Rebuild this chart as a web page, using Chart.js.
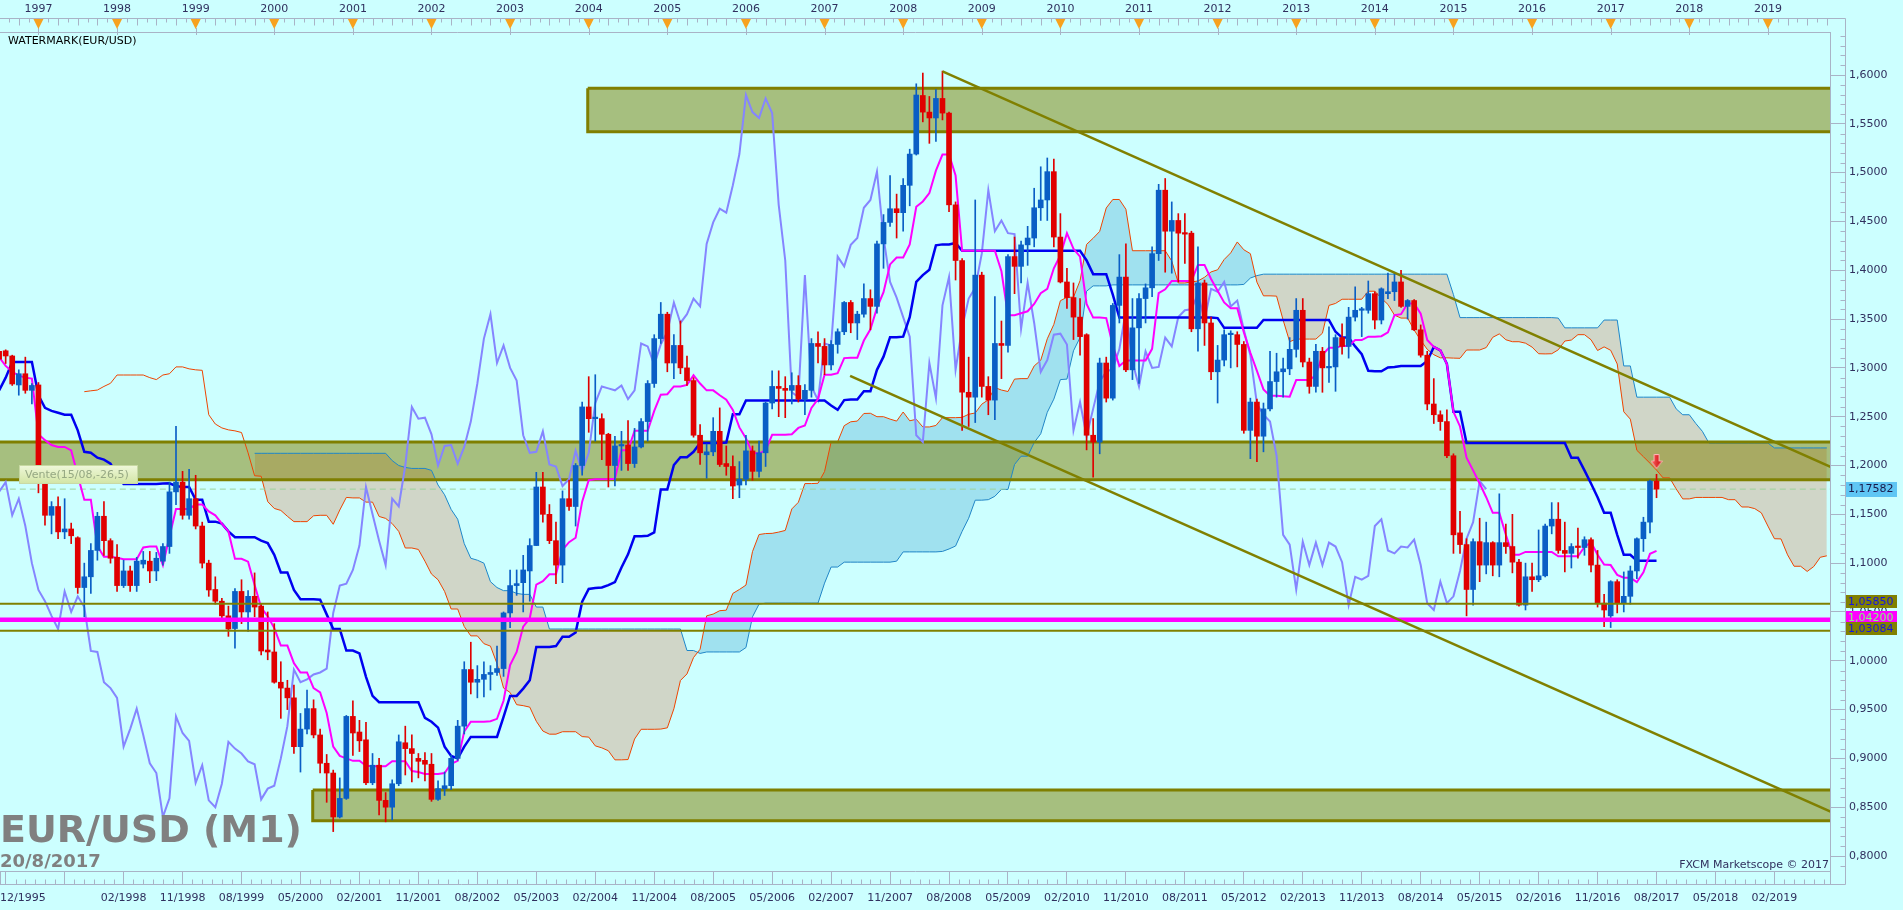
<!DOCTYPE html>
<html>
<head>
<meta charset="utf-8">
<title>EUR/USD (M1)</title>
<script src="https://cdn.jsdelivr.net/npm/chart.js@4.4.1/dist/chart.umd.min.js"></script>
<style>
  html, body { margin: 0; padding: 0; background: #CCFFFF; overflow: hidden; }
  #wrap { position: relative; width: 1903px; height: 910px; background: #CCFFFF; }
  canvas { display: block; }
  .txt { position: absolute; font-family: "DejaVu Sans", sans-serif; white-space: nowrap; }
</style>
</head>
<body>
<div id="wrap">
  <canvas id="c" width="1903" height="910"></canvas>
  <div class="txt" style="left:8px;top:34px;font-size:11px;line-height:13px;color:#000;">WATERMARK(EUR/USD)</div>
  <div class="txt" style="left:19px;top:465px;width:119px;height:19px;box-sizing:border-box;border:1px solid rgba(196,214,160,0.9);background:linear-gradient(#EEF7D8,#D3E6A6);font-size:11px;line-height:17px;padding-left:5px;color:#96A883;">Vente(15/08,-26,5)</div>
  <div class="txt" style="left:0px;top:806px;font-size:38px;line-height:46px;font-weight:bold;color:#808080;">EUR/USD (M1)</div>
  <div class="txt" style="left:0px;top:850px;font-size:18px;line-height:22px;font-weight:bold;color:#808080;">20/8/2017</div>
  <div class="txt" style="right:74px;top:858px;font-size:11px;line-height:13px;color:#30305E;">FXCM Marketscope © 2017</div>
</div>
<script>
// ---------------- DATA ----------------
const FIRST_MONTH = '1996-07';      // month of the first candle below
const SENKOU_A_FIRST = '1997-08';   // first month of senkouA (already shifted forward)
const SENKOU_B_FIRST = '1999-10';   // first month of senkouB (already shifted forward)
const CHIKOU_SHIFT = 26;            // chikou = close drawn 26 months earlier

const open = [
 1.317,1.3175,1.3122,1.2825,1.294,1.277,1.2825,1.186,1.149,1.158,1.132,1.135,
 1.126,1.075,1.086,1.113,1.148,1.123,1.106,1.077,1.092,1.077,1.099,1.102,
 1.092,1.102,1.117,1.173,1.183,1.149,1.166,1.138,1.100,1.073,1.061,1.046,
 1.033,1.071,1.050,1.066,1.056,1.011,1.009,0.978,0.972,0.962,0.912,0.930,
 0.951,0.924,0.895,0.885,0.840,0.859,0.943,0.927,0.919,0.875,0.893,0.857,
 0.850,0.874,0.916,0.910,0.900,0.898,0.894,0.858,0.869,0.872,0.900,0.933,
 0.991,0.978,0.981,0.986,0.988,0.992,1.049,1.077,1.080,1.092,1.118,1.178,
 1.150,1.123,1.098,1.166,1.158,1.200,1.260,1.248,1.248,1.232,1.200,1.220,
 1.221,1.202,1.219,1.245,1.284,1.330,1.355,1.305,1.323,1.300,1.287,1.231,
 1.211,1.214,1.235,1.202,1.199,1.180,1.186,1.215,1.194,1.213,1.264,1.281,
 1.279,1.277,1.282,1.268,1.277,1.325,1.322,1.303,1.324,1.337,1.367,1.346,
 1.355,1.371,1.363,1.427,1.449,1.463,1.459,1.487,1.519,1.579,1.562,1.556,
 1.576,1.561,1.467,1.410,1.275,1.270,1.395,1.281,1.267,1.325,1.323,1.414,
 1.404,1.426,1.433,1.464,1.472,1.501,1.434,1.388,1.372,1.352,1.334,1.231,
 1.224,1.305,1.269,1.364,1.393,1.298,1.341,1.371,1.382,1.417,1.482,1.440,
 1.451,1.438,1.438,1.340,1.387,1.346,1.296,1.308,1.334,1.334,1.324,1.236,
 1.265,1.230,1.258,1.286,1.296,1.299,1.319,1.359,1.306,1.281,1.317,1.300,
 1.301,1.331,1.322,1.352,1.359,1.359,1.376,1.349,1.376,1.378,1.388,1.363,
 1.369,1.339,1.313,1.263,1.252,1.245,1.210,1.131,1.119,1.073,1.122,1.098,
 1.121,1.098,1.121,1.117,1.101,1.057,1.086,1.083,1.087,1.138,1.145,1.113,
 1.110,1.117,1.116,1.124,1.098,1.059,1.046,1.081,1.059,1.066,1.092,1.125,
 1.142,1.184];

const high = [
 1.318,1.3185,1.313,1.298,1.311,1.284,1.285,1.190,1.163,1.168,1.166,1.141,
 1.127,1.100,1.120,1.152,1.163,1.125,1.119,1.103,1.097,1.106,1.112,1.112,
 1.111,1.120,1.183,1.240,1.194,1.196,1.190,1.142,1.103,1.086,1.064,1.056,
 1.074,1.083,1.072,1.090,1.058,1.050,1.038,0.999,0.980,0.975,0.946,0.970,
 0.960,0.930,0.904,0.888,0.880,0.944,0.959,0.939,0.937,0.905,0.900,0.865,
 0.878,0.924,0.933,0.924,0.905,0.906,0.905,0.877,0.886,0.903,0.939,0.999,
 1.019,0.995,0.999,0.995,1.015,1.050,1.093,1.093,1.108,1.125,1.193,1.193,
 1.160,1.142,1.174,1.185,1.202,1.265,1.291,1.293,1.253,1.233,1.230,1.235,
 1.246,1.238,1.248,1.287,1.334,1.367,1.357,1.334,1.348,1.312,1.290,1.242,
 1.222,1.249,1.259,1.220,1.210,1.204,1.231,1.220,1.225,1.265,1.297,1.297,
 1.291,1.295,1.292,1.283,1.330,1.337,1.330,1.328,1.340,1.368,1.369,1.358,
 1.386,1.380,1.430,1.457,1.497,1.478,1.494,1.524,1.591,1.602,1.578,1.585,
 1.604,1.562,1.470,1.412,1.311,1.472,1.398,1.291,1.373,1.348,1.416,1.434,
 1.430,1.445,1.484,1.506,1.515,1.514,1.458,1.402,1.387,1.371,1.335,1.248,
 1.310,1.311,1.366,1.416,1.427,1.371,1.376,1.386,1.424,1.488,1.494,1.470,
 1.458,1.458,1.440,1.424,1.390,1.352,1.323,1.339,1.338,1.337,1.327,1.269,
 1.268,1.264,1.317,1.315,1.310,1.331,1.371,1.371,1.310,1.324,1.321,1.342,
 1.334,1.345,1.362,1.383,1.362,1.389,1.378,1.382,1.397,1.398,1.400,1.370,
 1.370,1.344,1.317,1.289,1.256,1.257,1.212,1.153,1.125,1.125,1.146,1.142,
 1.122,1.171,1.140,1.150,1.104,1.100,1.100,1.134,1.140,1.162,1.162,1.142,
 1.120,1.136,1.127,1.126,1.113,1.068,1.082,1.083,1.091,1.097,1.126,1.147,
 1.185,1.191];

const low = [
 1.305,1.3045,1.282,1.272,1.274,1.263,1.172,1.139,1.130,1.125,1.125,1.120,
 1.069,1.045,1.069,1.103,1.108,1.100,1.071,1.075,1.071,1.071,1.095,1.080,
 1.082,1.098,1.110,1.160,1.145,1.145,1.135,1.095,1.066,1.058,1.041,1.025,
 1.013,1.038,1.030,1.045,1.006,1.001,0.977,0.941,0.950,0.905,0.886,0.925,
 0.921,0.885,0.855,0.825,0.839,0.858,0.903,0.907,0.873,0.873,0.842,0.835,
 0.837,0.872,0.883,0.876,0.880,0.877,0.856,0.857,0.862,0.868,0.898,0.925,
 0.966,0.962,0.963,0.970,0.985,0.984,1.034,1.067,1.050,1.061,1.118,1.142,
 1.120,1.079,1.080,1.154,1.138,1.190,1.234,1.225,1.206,1.178,1.179,1.195,
 1.195,1.198,1.218,1.225,1.280,1.325,1.296,1.289,1.294,1.282,1.229,1.201,
 1.187,1.210,1.199,1.190,1.166,1.167,1.180,1.185,1.188,1.199,1.258,1.250,
 1.249,1.263,1.265,1.252,1.270,1.305,1.293,1.298,1.315,1.334,1.336,1.329,
 1.352,1.339,1.356,1.402,1.445,1.433,1.440,1.466,1.518,1.552,1.530,1.532,
 1.554,1.460,1.390,1.236,1.240,1.244,1.270,1.252,1.247,1.289,1.316,1.376,
 1.387,1.405,1.424,1.451,1.451,1.424,1.387,1.361,1.329,1.313,1.216,1.188,
 1.212,1.265,1.267,1.346,1.296,1.288,1.284,1.346,1.373,1.410,1.398,1.397,
 1.388,1.407,1.337,1.317,1.323,1.288,1.264,1.302,1.300,1.301,1.233,1.207,
 1.204,1.214,1.256,1.270,1.270,1.293,1.311,1.301,1.274,1.275,1.275,1.285,
 1.276,1.314,1.310,1.348,1.332,1.356,1.340,1.345,1.371,1.369,1.362,1.350,
 1.338,1.311,1.257,1.243,1.236,1.208,1.110,1.110,1.046,1.057,1.081,1.089,
 1.087,1.086,1.110,1.090,1.056,1.052,1.071,1.081,1.086,1.130,1.110,1.091,
 1.095,1.105,1.108,1.091,1.055,1.035,1.034,1.049,1.050,1.058,1.084,1.112,
 1.131,1.167];

const close = [
 1.309,1.3122,1.2835,1.294,1.277,1.282,1.188,1.149,1.158,1.132,1.135,1.128,
 1.075,1.086,1.113,1.148,1.123,1.105,1.077,1.092,1.077,1.102,1.103,1.092,
 1.105,1.117,1.173,1.183,1.149,1.166,1.138,1.100,1.0725,1.061,1.046,1.0325,
 1.071,1.050,1.066,1.055,1.010,1.009,0.978,0.972,0.962,0.912,0.930,0.951,
 0.924,0.895,0.885,0.840,0.859,0.943,0.926,0.918,0.875,0.893,0.857,0.850,
 0.874,0.917,0.910,0.905,0.897,0.894,0.858,0.869,0.872,0.900,0.933,0.991,
 0.978,0.981,0.986,0.988,0.992,1.049,1.077,1.079,1.093,1.118,1.178,1.150,
 1.123,1.098,1.166,1.158,1.200,1.260,1.248,1.249,1.232,1.200,1.220,1.221,
 1.202,1.219,1.245,1.284,1.330,1.355,1.305,1.323,1.300,1.287,1.231,1.213,
 1.214,1.235,1.201,1.199,1.179,1.186,1.215,1.194,1.213,1.264,1.281,1.279,
 1.277,1.282,1.268,1.277,1.325,1.322,1.303,1.324,1.337,1.367,1.346,1.355,
 1.371,1.363,1.427,1.449,1.463,1.459,1.487,1.519,1.5795,1.562,1.556,1.576,
 1.561,1.467,1.410,1.275,1.270,1.395,1.281,1.267,1.325,1.323,1.414,1.404,
 1.426,1.433,1.464,1.472,1.501,1.434,1.388,1.372,1.352,1.332,1.231,1.224,
 1.305,1.269,1.364,1.393,1.298,1.341,1.371,1.382,1.417,1.482,1.440,1.451,
 1.438,1.437,1.340,1.387,1.346,1.296,1.308,1.334,1.335,1.324,1.236,1.265,
 1.230,1.258,1.286,1.296,1.299,1.319,1.359,1.306,1.281,1.317,1.300,1.301,
 1.331,1.322,1.352,1.359,1.360,1.376,1.349,1.381,1.378,1.388,1.363,1.369,
 1.339,1.313,1.263,1.252,1.245,1.210,1.129,1.119,1.073,1.122,1.098,1.121,
 1.098,1.121,1.117,1.101,1.057,1.086,1.083,1.087,1.138,1.145,1.113,1.110,
 1.117,1.116,1.124,1.098,1.059,1.052,1.081,1.059,1.066,1.092,1.125,1.142,
 1.184,1.1758];

// Tenkan-sen (magenta), one value per candle
const tenkan = [
 1.311,1.302,1.296,1.292,1.290,1.289,1.232,1.226,1.221,1.219,1.219,1.2155,
 1.190,1.165,1.165,1.1175,1.1065,1.1065,1.1055,1.104,1.104,1.104,1.116,1.117,
 1.117,1.098,1.127,1.1555,1.1555,1.1555,1.160,1.160,1.153,1.149,1.1405,1.1325,
 1.1045,1.1045,1.1015,1.0775,1.0545,1.0455,1.0335,1.0155,1.0155,0.9975,0.988,0.988,
 0.972,0.9675,0.9465,0.912,0.9025,0.900,0.8975,0.8975,0.8925,0.892,0.892,0.892,
 0.897,0.897,0.897,0.887,0.886,0.884,0.884,0.884,0.885,0.8945,0.8975,0.9275,
 0.9375,0.9375,0.9375,0.938,0.9405,0.959,0.9955,1.009,1.035,1.0435,1.078,1.0815,
 1.0885,1.0885,1.1135,1.1215,1.126,1.163,1.185,1.186,1.186,1.186,1.1865,1.2155,
 1.2155,1.2355,1.2355,1.2355,1.256,1.2725,1.273,1.281,1.281,1.2825,1.2925,1.284,
 1.277,1.277,1.272,1.2675,1.257,1.239,1.228,1.2125,1.2125,1.2155,1.2315,1.2315,
 1.2315,1.232,1.2385,1.241,1.259,1.268,1.293,1.293,1.2945,1.310,1.3105,1.3105,
 1.328,1.3395,1.3615,1.3775,1.406,1.413,1.413,1.4265,1.465,1.4705,1.479,1.502,
 1.5185,1.5185,1.497,1.420,1.420,1.420,1.420,1.420,1.420,1.399,1.354,1.354,
 1.356,1.358,1.3655,1.3765,1.381,1.402,1.4155,1.438,1.422,1.414,1.3655,1.3515,
 1.3515,1.351,1.323,1.302,1.3075,1.3075,1.3075,1.3075,1.3195,1.3765,1.3805,1.389,
 1.389,1.389,1.389,1.4055,1.4055,1.391,1.379,1.367,1.361,1.361,1.3365,1.3155,
 1.297,1.278,1.2715,1.2715,1.271,1.2705,1.2875,1.2875,1.2875,1.2925,1.3135,1.3205,
 1.3205,1.3225,1.3225,1.3285,1.3285,1.332,1.332,1.3325,1.3365,1.354,1.355,1.366,
 1.366,1.3555,1.3285,1.3215,1.318,1.304,1.255,1.240,1.208,1.195,1.1815,1.1675,
 1.1515,1.1515,1.129,1.1085,1.1085,1.1115,1.1115,1.1115,1.1115,1.1115,1.107,1.107,
 1.107,1.107,1.1165,1.1215,1.1085,1.0985,1.098,1.088,1.085,1.085,1.0805,1.0905,
 1.1095,1.1125];

// Kijun-sen (blue), one value per candle
const kijun = [
 1.277,1.290,1.306,1.306,1.306,1.306,1.272,1.259,1.256,1.254,1.252,1.252,
 1.236,1.214,1.213,1.208,1.206,1.202,1.190,1.181,1.181,1.181,1.181,1.181,
 1.181,1.1815,1.1818,1.179,1.178,1.178,1.165,1.165,1.1425,1.1425,1.1405,1.1325,
 1.1265,1.1265,1.1265,1.1265,1.123,1.1205,1.1085,1.0905,1.0905,1.0725,1.063,1.063,
 1.063,1.0625,1.0475,1.0325,1.0325,1.0105,1.0105,1.0075,0.9835,0.964,0.9575,0.9575,
 0.9575,0.9575,0.9575,0.9575,0.9575,0.9415,0.9375,0.9315,0.912,0.9025,0.900,0.912,
 0.922,0.922,0.922,0.922,0.922,0.9425,0.964,0.964,0.9715,0.980,1.014,1.014,
 1.014,1.015,1.0245,1.0245,1.029,1.0605,1.0735,1.0745,1.075,1.0775,1.0805,1.0955,
 1.109,1.1275,1.1275,1.128,1.1315,1.1755,1.1755,1.2005,1.2085,1.2085,1.214,1.223,
 1.223,1.223,1.223,1.2235,1.2525,1.2525,1.2665,1.2665,1.2665,1.2665,1.2665,1.2665,
 1.2665,1.2665,1.2665,1.2665,1.2665,1.2665,1.2665,1.2615,1.257,1.267,1.2675,1.2675,
 1.276,1.276,1.298,1.3115,1.3315,1.3315,1.332,1.352,1.388,1.395,1.4005,1.4255,
 1.4265,1.4265,1.428,1.420,1.420,1.420,1.420,1.420,1.420,1.420,1.420,1.420,
 1.420,1.420,1.420,1.420,1.420,1.420,1.420,1.420,1.420,1.420,1.410,1.396,
 1.396,1.396,1.375,1.3515,1.3515,1.3515,1.3515,1.3515,1.3515,1.3515,1.3515,1.3515,
 1.3515,1.3515,1.3515,1.3515,1.3515,1.3515,1.351,1.341,1.341,1.341,1.341,1.341,
 1.341,1.349,1.349,1.349,1.349,1.349,1.349,1.349,1.349,1.349,1.349,1.349,
 1.337,1.331,1.331,1.322,1.314,1.297,1.2965,1.2965,1.3005,1.301,1.302,1.302,
 1.302,1.302,1.307,1.3215,1.318,1.304,1.255,1.255,1.223,1.223,1.223,1.223,
 1.223,1.223,1.223,1.223,1.223,1.223,1.223,1.223,1.223,1.223,1.223,1.223,
 1.208,1.208,1.195,1.1815,1.1675,1.1515,1.1515,1.129,1.1085,1.1085,1.1025,1.1025,
 1.1025,1.1025];

// Senkou span A (orange-red), from SENKOU_A_FIRST
const senkouA = [
 1.2756,1.2765,1.2773,1.281,1.2842,1.2927,1.2927,1.2927,1.2927,1.2927,1.290,1.288,
 1.2927,1.294,1.301,1.301,1.299,1.298,1.2975,1.252,1.2425,1.2385,1.2365,1.2355,
 1.2338,1.213,1.1895,1.189,1.163,1.156,1.154,1.148,1.1425,1.1425,1.1425,1.1485,
 1.149,1.149,1.1398,1.1544,1.1673,1.1668,1.1668,1.1625,1.1625,1.1478,1.1458,1.1405,
 1.1325,1.1155,1.1155,1.114,1.102,1.0888,1.083,1.071,1.053,1.053,1.035,1.0255,
 1.0255,1.0175,1.015,0.997,0.972,0.9675,0.955,0.954,0.9525,0.938,0.928,0.9248,
 0.9248,0.9273,0.9273,0.9273,0.9223,0.9218,0.9128,0.9108,0.9078,0.8985,0.8985,0.8988,
 0.9198,0.9298,0.9298,0.9298,0.930,0.9313,0.9508,0.9798,0.9865,1.0033,1.0118,1.046,
 1.0478,1.0513,1.0518,1.069,1.073,1.0775,1.1118,1.1293,1.1303,1.1305,1.1318,1.1335,
 1.1555,1.1623,1.1815,1.1815,1.1818,1.1938,1.224,1.2243,1.2408,1.2448,1.2455,1.2533,
 1.2535,1.25,1.25,1.2475,1.2455,1.2548,1.2458,1.2473,1.2395,1.2395,1.241,1.249,
 1.249,1.249,1.2493,1.2525,1.2538,1.2628,1.2673,1.2798,1.2773,1.2758,1.2885,1.289,
 1.289,1.302,1.3078,1.3298,1.3445,1.3688,1.3723,1.3725,1.3893,1.4265,1.4328,1.4398,
 1.4638,1.4725,1.4725,1.4625,1.420,1.420,1.420,1.420,1.420,1.420,1.4095,1.387,
 1.387,1.388,1.389,1.3928,1.3983,1.4005,1.411,1.4178,1.429,1.421,1.417,1.3878,
 1.3738,1.3738,1.3735,1.349,1.3268,1.3295,1.3295,1.3295,1.3295,1.3355,1.364,1.366,
 1.3703,1.3703,1.3703,1.3703,1.3785,1.3785,1.3713,1.365,1.354,1.351,1.351,1.3388,
 1.3283,1.319,1.3135,1.3103,1.3103,1.31,1.3098,1.3183,1.3183,1.3183,1.3208,1.3313,
 1.3348,1.3288,1.3268,1.3268,1.3253,1.3213,1.3145,1.3143,1.3145,1.3185,1.3275,1.3285,
 1.334,1.334,1.3288,1.3178,1.3215,1.318,1.304,1.255,1.2475,1.2155,1.209,1.2023,
 1.1953,1.1873,1.1873,1.176,1.1658,1.1658,1.1673,1.1673,1.1673,1.1673,1.1673,1.165,
 1.165,1.1575,1.1575,1.1558,1.1515,1.138,1.125,1.1248,1.1085,1.0968,1.0968,1.0915,
 1.0965,1.106,1.1075];

// Senkou span B (steel blue), from SENKOU_B_FIRST
const senkouB = [
 1.2125,1.2125,1.2125,1.2125,1.2125,1.2125,1.2125,1.2125,1.2125,1.2125,1.2125,1.2125,
 1.2125,1.2125,1.2125,1.2125,1.2125,1.2125,1.2125,1.2125,1.2125,1.205,1.200,1.198,
 1.197,1.197,1.197,1.195,1.180,1.170,1.155,1.145,1.120,1.105,1.103,1.100,
 1.081,1.075,1.0718,1.0718,1.069,1.068,1.068,1.055,1.055,1.0325,1.0325,1.0325,
 1.0325,1.0325,1.0325,1.0325,1.0325,1.0325,1.0325,1.0325,1.0325,1.0325,1.0325,1.0325,
 1.0325,1.0325,1.0325,1.0325,1.0325,1.0325,1.0105,1.0105,1.0075,1.009,1.009,1.009,
 1.009,1.009,1.009,1.0135,1.045,1.058,1.059,1.059,1.059,1.059,1.059,1.059,
 1.059,1.059,1.059,1.0795,1.096,1.096,1.101,1.101,1.101,1.101,1.101,1.101,
 1.101,1.101,1.102,1.1115,1.1115,1.1115,1.1115,1.1115,1.1115,1.112,1.1145,1.1175,
 1.1325,1.146,1.1645,1.1645,1.165,1.1685,1.1755,1.1755,1.201,1.2095,1.2095,1.2235,
 1.2325,1.2545,1.268,1.288,1.2885,1.3175,1.331,1.3785,1.384,1.384,1.384,1.385,
 1.385,1.385,1.385,1.385,1.385,1.385,1.385,1.385,1.385,1.385,1.385,1.385,
 1.385,1.385,1.385,1.385,1.385,1.385,1.385,1.3855,1.392,1.3945,1.396,1.396,
 1.396,1.396,1.396,1.396,1.396,1.396,1.396,1.396,1.396,1.396,1.396,1.396,
 1.396,1.396,1.396,1.396,1.396,1.396,1.396,1.396,1.396,1.396,1.396,1.396,
 1.396,1.396,1.396,1.375,1.3515,1.3515,1.3515,1.3515,1.3515,1.3515,1.3515,1.3515,
 1.3515,1.3515,1.3515,1.3515,1.3515,1.3515,1.3515,1.351,1.341,1.341,1.341,1.341,
 1.341,1.341,1.349,1.349,1.349,1.302,1.302,1.270,1.270,1.270,1.270,1.270,
 1.270,1.258,1.252,1.252,1.243,1.235,1.223,1.223,1.223,1.223,1.223,1.223,
 1.223,1.223,1.223,1.223,1.218,1.218,1.218,1.218,1.218,1.218,1.218,1.218,
 1.218];

// Drawings
const zones = [   // olive support/resistance boxes
  { from: '1996-01', to: '2020-01', top: 1.2242, bottom: 1.1853 },
  { from: '2003-12.85', to: '2020-01', top: 1.5865, bottom: 1.5420 },
  { from: '2000-06.87', to: '2020-01', top: 0.8677, bottom: 0.8362 }
];
const trendLines = [  // [month, price] anchors
  [['2008-07', 1.6038], ['2020-01', 1.1913]],
  [['2007-04.9', 1.2917], ['2020-01', 0.8383]]
];
const levels = [1.05850, 1.04200, 1.03084];
const lastPrice = 1.17582;
const sellSignal = { month: '2017-08', price: 1.2040 };

// Axes
const bottomLabels = ['12/1995','02/1998','11/1998','08/1999','05/2000','02/2001','11/2001','08/2002',
  '05/2003','02/2004','11/2004','08/2005','05/2006','02/2007','11/2007','08/2008','05/2009','02/2010',
  '11/2010','08/2011','05/2012','02/2013','11/2013','08/2014','05/2015','02/2016','11/2016','08/2017',
  '05/2018','02/2019'];
const bottomUnlabeled = ['08/1996', '05/1997'];
const topYears = ['1997','1998','1999','2000','2001','2002','2003','2004','2005','2006','2007','2008',
  '2009','2010','2011','2012','2013','2014','2015','2016','2017','2018','2019'];
const priceTicks = [0.80,0.85,0.90,0.95,1.00,1.05,1.10,1.15,1.20,1.25,1.30,1.35,1.40,1.45,1.50,1.55,1.60];
const X_RANGE = ['1996-07.133', '2019-10.48'];
const Y_RANGE = [0.78464, 1.64405];

// ---------------- STYLE ----------------
const AXIS_COLOR = '#A9B3C6';
const LABEL_COLOR = '#30305E';
const BULL = '#0A5EC5', BEAR = '#E00000';
const OLIVE = '#808000';
const levelStyle = [
  { line: OLIVE, width: 2, tagBg: '#808000', tagFg: '#1414E6' },
  { line: '#FF00FF', width: 4.5, tagBg: '#FF00FF', tagFg: '#7CFF7C' },
  { line: OLIVE, width: 2, tagBg: '#808000', tagFg: '#1414E6' }
];

// ---------------- BUILD ----------------
function monthNum(s) {             // 'YYYY-MM(.frac)' -> continuous month number
  const [y, m] = s.split('-');
  return Number(y) * 12 + (Number(m) - 1);
}
function labelMonth(s) {           // 'MM/YYYY' -> month number
  const [m, y] = s.split('/');
  return Number(y) * 12 + (Number(m) - 1);
}
const X_MIN = monthNum(X_RANGE[0]), X_MAX = monthNum(X_RANGE[1]);
const [Y_MIN, Y_MAX] = Y_RANGE;

const m0 = monthNum(FIRST_MONTH);
const a0 = monthNum(SENKOU_A_FIRST);
const b0 = monthNum(SENKOU_B_FIRST);
const candleColors = open.map((o, i) => close[i] >= o ? BULL : BEAR);

const bottomTicks = bottomLabels.map(l => ({ value: Math.max(X_MIN, labelMonth(l)), label: l }))
  .concat(bottomUnlabeled.map(l => ({ value: labelMonth(l), label: '' })))
  .concat([{ value: X_MAX, label: '' }])
  .sort((a, b) => a.value - b.value);

const baseLine = { type: 'line', pointRadius: 0, pointHoverRadius: 0, tension: 0, fill: false, xAxisID: 'x', yAxisID: 'y' };

const datasets = [];
// 0: Senkou B
datasets.push(Object.assign({}, baseLine, {
  label: 'Senkou B', data: senkouB.map((v, i) => ({ x: b0 + i, y: v })),
  borderColor: '#1F86C8', borderWidth: 1, order: 11
}));
// 1: Senkou A with cloud fill to Senkou B
datasets.push(Object.assign({}, baseLine, {
  label: 'Senkou A', data: senkouA.map((v, i) => ({ x: a0 + i, y: v })),
  borderColor: '#EE4400', borderWidth: 1, order: 10,
  fill: { target: 0, above: 'rgba(124,201,225,0.55)', below: 'rgba(212,173,145,0.5)' }
}));
// zones
zones.forEach(z => {
  const s = monthNum(z.from), e = monthNum(z.to);
  datasets.push(Object.assign({}, baseLine, {
    label: 'zone', data: [{x: s, y: z.top}, {x: e, y: z.top}, {x: e, y: z.bottom}, {x: s, y: z.bottom}, {x: s, y: z.top}],
    borderColor: '#7F7F00', borderWidth: 3, backgroundColor: 'rgba(128,128,0,0.5)', fill: 'shape', order: 9, clip: 0
  }));
});
// current price dashed line
datasets.push(Object.assign({}, baseLine, {
  label: 'last', data: [{x: monthNum('1996-01'), y: lastPrice}, {x: monthNum('2020-01'), y: lastPrice}],
  borderColor: '#9CD39C', borderWidth: 1, borderDash: [6, 4], order: 8, clip: 0
}));
// Chikou span
datasets.push(Object.assign({}, baseLine, {
  label: 'Chikou', data: close.map((v, i) => ({ x: m0 + i - CHIKOU_SHIFT, y: v })),
  borderColor: '#8585FF', borderWidth: 2, order: 7
}));
// Kijun
datasets.push(Object.assign({}, baseLine, {
  label: 'Kijun', data: kijun.map((v, i) => ({ x: m0 + i, y: v })),
  borderColor: '#0000F0', borderWidth: 2.5, order: 6
}));
// Tenkan
datasets.push(Object.assign({}, baseLine, {
  label: 'Tenkan', data: tenkan.map((v, i) => ({ x: m0 + i, y: v })),
  borderColor: '#FF00FF', borderWidth: 2, order: 5
}));
// Candle wicks
datasets.push({
  type: 'bar', label: 'wick', xAxisID: 'x', yAxisID: 'y', grouped: false,
  data: low.map((l, i) => ({ x: m0 + i, y: [l, high[i]] })),
  backgroundColor: candleColors, barThickness: 1, order: 4
});
// Candle bodies
datasets.push({
  type: 'bar', label: 'body', xAxisID: 'x', yAxisID: 'y', grouped: false,
  data: open.map((o, i) => ({ x: m0 + i, y: [o, close[i]] })),
  backgroundColor: candleColors, barThickness: 5, minBarLength: 1.5, order: 3
});
// Horizontal levels
levels.forEach((v, i) => {
  datasets.push(Object.assign({}, baseLine, {
    label: 'level', data: [{x: monthNum('1996-01'), y: v}, {x: monthNum('2020-01'), y: v}],
    borderColor: levelStyle[i].line, borderWidth: levelStyle[i].width, order: 2, clip: 0
  }));
});
// Trend lines
trendLines.forEach(tl => {
  datasets.push(Object.assign({}, baseLine, {
    label: 'trend', data: tl.map(p => ({ x: monthNum(p[0]), y: p[1] })),
    borderColor: OLIVE, borderWidth: 2.5, order: 1.5, clip: 0
  }));
});
// Sell arrow marker
const arrowImg = (() => {
  const c = document.createElement('canvas'); c.width = 12; c.height = 15;
  const g = c.getContext('2d');
  g.beginPath();
  g.moveTo(3.5, 0.5); g.lineTo(8.5, 0.5); g.lineTo(8.5, 7); g.lineTo(11.5, 7);
  g.lineTo(6, 14.5); g.lineTo(0.5, 7); g.lineTo(3.5, 7); g.closePath();
  const gr = g.createLinearGradient(0, 0, 12, 0);
  gr.addColorStop(0, '#FF6A6A'); gr.addColorStop(1, '#C80000');
  g.fillStyle = gr; g.fill();
  g.strokeStyle = '#FFB4B4'; g.lineWidth = 1; g.stroke();
  return c;
})();
datasets.push({
  type: 'line', label: 'signal', showLine: false, xAxisID: 'x', yAxisID: 'y',
  data: [{ x: monthNum(sellSignal.month), y: sellSignal.price }],
  pointStyle: arrowImg, pointRadius: 7, order: 0
});

// Axis decorations (minor ticks, year markers, price tags)
const decor = {
  id: 'decor',
  afterDraw(chart) {
    const { ctx, chartArea: ca } = chart;
    const xs = chart.scales.x, xt = chart.scales.xTop, ys = chart.scales.y;
    const outerR = Math.round(ca.right) + 15.5;
    const topY = 18.5, botY = Math.round(ca.bottom) + 13.5;
    ctx.save();
    ctx.strokeStyle = AXIS_COLOR; ctx.lineWidth = 1;
    ctx.beginPath();
    ctx.moveTo(0, topY); ctx.lineTo(outerR, topY); ctx.lineTo(outerR, botY); ctx.lineTo(0, botY);
    const jan = monthNum(topYears[0] + '-01');
    for (let k = -12; ; k++) {
      const m = jan + k * 1.5;
      if (m > X_MAX) break;
      if (m < X_MIN) continue;
      const x = Math.round(xt.getPixelForValue(m)) + 0.5;
      ctx.moveTo(x, topY); ctx.lineTo(x, topY + (k % 2 === 0 ? 7 : 4));
    }
    const base = labelMonth(bottomLabels[1]);
    for (let k = -20; ; k++) {
      const m = base + k * 1.5;
      if (m > X_MAX) break;
      if (m < X_MIN || k % 6 === 0) continue;
      const x = Math.round(xs.getPixelForValue(m)) + 0.5;
      ctx.moveTo(x, botY); ctx.lineTo(x, botY - 5);
    }
    for (let p = 79; p <= 164; p++) {
      if (p % 5 === 0) continue;
      const y = Math.round(ys.getPixelForValue(p / 100)) + 0.5;
      ctx.moveTo(outerR - 5, y); ctx.lineTo(outerR, y);
    }
    ctx.stroke();
    topYears.forEach(yr => {
      const x = xt.getPixelForValue(monthNum(yr + '-01'));
      ctx.beginPath();
      ctx.moveTo(Math.round(x) + 0.5, 28); ctx.lineTo(Math.round(x) + 0.5, 35);
      ctx.strokeStyle = AXIS_COLOR; ctx.stroke();
      ctx.beginPath();
      ctx.moveTo(x - 5, 19); ctx.lineTo(x + 5, 19); ctx.lineTo(x, 29); ctx.closePath();
      ctx.fillStyle = '#F7A21E'; ctx.fill();
    });
    ctx.font = '11px "DejaVu Sans"';
    ctx.textBaseline = 'middle'; ctx.textAlign = 'left';
    const tag = (v, dy, h, bg, fg) => {
      const y = ys.getPixelForValue(v) + dy;
      ctx.fillStyle = bg;
      ctx.fillRect(ca.right + 16, Math.round(y - h / 2), 51, h);
      ctx.fillStyle = fg;
      ctx.fillText(v.toFixed(5).replace('.', ','), ca.right + 18, y + 0.5);
    };
    tag(lastPrice, 0, 15, '#5FC6F4', '#1A1A4A');
    levels.forEach((v, i) => tag(v, -2, 13, levelStyle[i].tagBg, levelStyle[i].tagFg));
    ctx.restore();
  }
};

Chart.defaults.font.family = '"DejaVu Sans", sans-serif';
Chart.defaults.font.size = 11;

const noPadX = s => { s.paddingLeft = 0; s.paddingRight = 0; };

new Chart(document.getElementById('c'), {
  type: 'bar',
  data: { datasets },
  options: {
    responsive: false, animation: false, devicePixelRatio: 1, events: [],
    layout: { padding: 0, autoPadding: false },
    plugins: {
      legend: { display: false }, tooltip: { enabled: false }, title: { display: false },
      filler: { drawTime: 'beforeDatasetsDraw', propagate: false }
    },
    scales: {
      x: {
        type: 'linear', axis: 'x', position: 'bottom', min: X_MIN, max: X_MAX, offset: false,
        afterFit: s => { s.height = 39; noPadX(s); },
        afterBuildTicks: s => { s.ticks = bottomTicks.map(t => ({ value: t.value })); },
        ticks: {
          autoSkip: false, maxRotation: 0, minRotation: 0, align: 'inner', padding: 0,
          color: LABEL_COLOR, font: { size: 11, lineHeight: 28 / 11 },
          callback: (v, i) => (bottomTicks[i] ? bottomTicks[i].label : '')
        },
        grid: { drawOnChartArea: false, drawTicks: true, tickLength: 13, color: AXIS_COLOR, offset: false },
        border: { display: true, color: AXIS_COLOR }
      },
      xTop: {
        type: 'linear', axis: 'x', position: 'top', min: X_MIN, max: X_MAX, offset: false,
        afterFit: s => { s.height = 32; noPadX(s); },
        afterBuildTicks: s => { s.ticks = topYears.map(y => ({ value: monthNum(y + '-01') })); },
        ticks: {
          autoSkip: false, maxRotation: 0, minRotation: 0, padding: 0,
          color: LABEL_COLOR, font: { size: 11, lineHeight: 46 / 11 },
          callback: (v, i) => topYears[i]
        },
        grid: { drawOnChartArea: false, drawTicks: false, offset: false },
        border: { display: true, color: AXIS_COLOR }
      },
      y: {
        type: 'linear', position: 'right', min: Y_MIN, max: Y_MAX,
        afterFit: s => { s.width = 73; s.paddingTop = 0; s.paddingBottom = 0; },
        afterBuildTicks: s => { s.ticks = priceTicks.map(v => ({ value: v })); },
        ticks: {
          padding: 4, color: LABEL_COLOR, font: { size: 11 },
          callback: v => Number(v).toFixed(4).replace('.', ',')
        },
        grid: { drawOnChartArea: false, drawTicks: true, tickLength: 15, color: AXIS_COLOR },
        border: { display: true, color: AXIS_COLOR }
      }
    }
  },
  plugins: [decor]
});
</script>
</body>
</html>
